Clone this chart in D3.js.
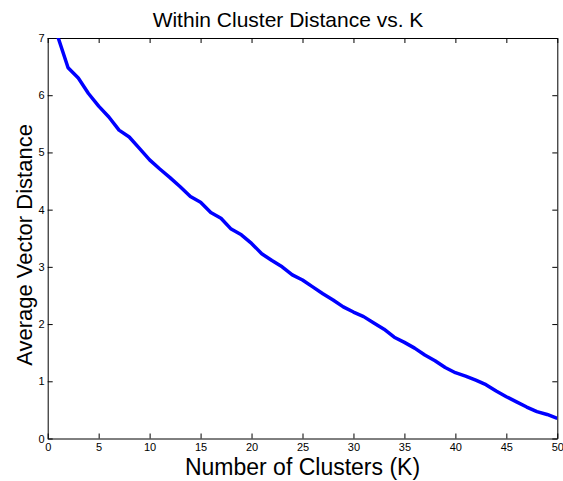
<!DOCTYPE html>
<html>
<head>
<meta charset="utf-8">
<script src="https://cdn.jsdelivr.net/npm/d3@7"></script>
<style>
    body { margin: 0; background: #fff; }
    svg { display: block; font-family: "Liberation Sans", Arial, Helvetica, sans-serif; }
    .axis path, .axis line { stroke: #000; }
    .axis text { fill: #000; font-size: 11px; }
</style>
</head>
<body>
<div id="chart"></div>
<script>
// 数据
const kValues = d3.range(1, 51);
const avgDistance = [
    7.02, 6.48, 6.30, 6.03, 5.81, 5.62, 5.39, 5.27, 5.07, 4.87,
    4.71, 4.56, 4.40, 4.23, 4.13, 3.95, 3.85, 3.66, 3.56, 3.41,
    3.23, 3.11, 3.00, 2.86, 2.77, 2.65, 2.53, 2.42, 2.30, 2.21,
    2.13, 2.02, 1.91, 1.77, 1.68, 1.58, 1.46, 1.36, 1.24, 1.15,
    1.09, 1.02, 0.94, 0.83, 0.73, 0.64, 0.55, 0.47, 0.42, 0.35
];
const xTicks = [0, 5, 10, 15, 20, 25, 30, 35, 40, 45, 50];
const yTicks = [0, 1, 2, 3, 4, 5, 6, 7];

const width = 563;
const height = 481;
const margin = { top: 38, right: 5.7, bottom: 42.5, left: 47.7 };

const svg = d3.select("#chart")
    .append("svg")
    .attr("width", width)
    .attr("height", height);

const x = d3.scaleLinear()
    .domain([0, 50])
    .range([margin.left, width - margin.right]);

const y = d3.scaleLinear()
    .domain([0, 7])
    .range([height - margin.bottom, margin.top]);

// 裁剪区域
svg.append("clipPath")
    .attr("id", "plot-clip")
    .append("rect")
    .attr("x", margin.left)
    .attr("y", margin.top)
    .attr("width", x(50) - x(0))
    .attr("height", y(0) - y(7));

// 坐标轴 (刻度朝内)
svg.append("g")
    .attr("class", "axis")
    .attr("transform", `translate(0,${y(0)})`)
    .call(d3.axisBottom(x).tickValues(xTicks).tickSizeInner(-5).tickSizeOuter(0).tickPadding(5).tickFormat(d3.format("d")));

svg.append("g")
    .attr("class", "axis")
    .attr("transform", `translate(0,${y(7)})`)
    .call(d3.axisTop(x).tickValues(xTicks).tickSizeInner(-5).tickSizeOuter(0).tickFormat(""));

svg.append("g")
    .attr("class", "axis")
    .attr("transform", `translate(${x(0)},0)`)
    .call(d3.axisLeft(y).tickValues(yTicks).tickSizeInner(-5).tickSizeOuter(0).tickPadding(3).tickFormat(d3.format("d")));

svg.append("g")
    .attr("class", "axis")
    .attr("transform", `translate(${x(50)},0)`)
    .call(d3.axisRight(y).tickValues(yTicks).tickSizeInner(-5).tickSizeOuter(0).tickFormat(""));

// 曲线
const line = d3.line()
    .x((d, i) => x(kValues[i]))
    .y(d => y(d));

svg.append("path")
    .datum(avgDistance)
    .attr("clip-path", "url(#plot-clip)")
    .attr("fill", "none")
    .attr("stroke", "#0000ff")
    .attr("stroke-width", 3.5)
    .attr("stroke-linejoin", "round")
    .attr("d", line);

// 标题和轴标签
svg.append("text")
    .attr("x", 288)
    .attr("y", 26.7)
    .attr("text-anchor", "middle")
    .attr("font-size", 21)
    .text("Within Cluster Distance vs. K");

svg.append("text")
    .attr("x", (x(0) + x(50)) / 2)
    .attr("y", 475)
    .attr("text-anchor", "middle")
    .attr("font-size", 23)
    .text("Number of Clusters (K)");

svg.append("text")
    .attr("transform", "translate(32,245) rotate(-90)")
    .attr("text-anchor", "middle")
    .attr("font-size", 22)
    .text("Average Vector Distance");
</script>
</body>
</html>
